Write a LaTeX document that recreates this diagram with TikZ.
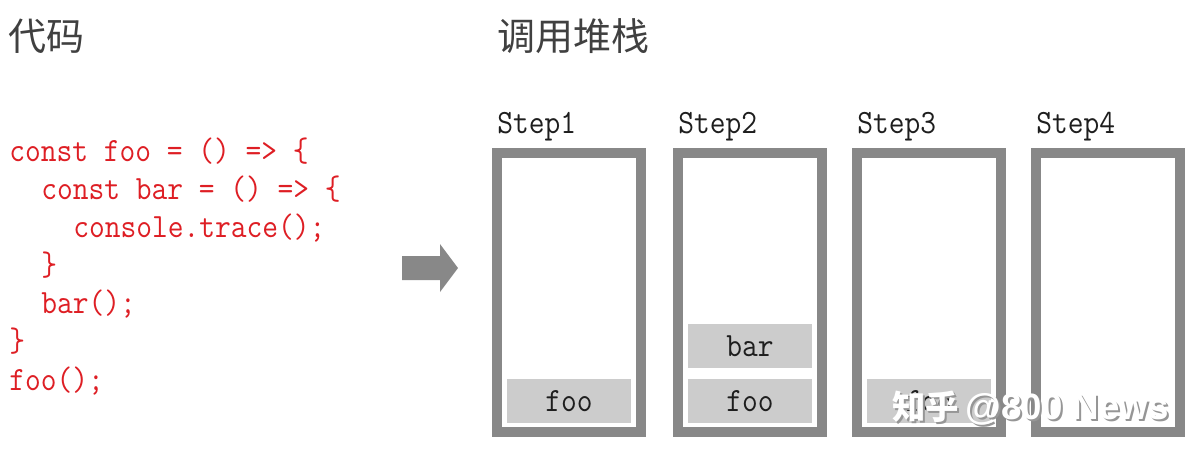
\documentclass[tikz,border=0pt]{standalone}
\usepackage{fontspec}
\newfontfamily\cjk{Noto Sans CJK SC}
\newfontfamily\wmfont{Liberation Sans}
\definecolor{codered}{RGB}{222,30,36}
\definecolor{framegray}{RGB}{136,136,136}
\definecolor{blockfill}{RGB}{204,204,204}
\definecolor{titlegray}{RGB}{64,64,64}
\definecolor{textdark}{RGB}{30,30,30}
\definecolor{shadowgray}{RGB}{150,150,150}
\newcommand{\mono}[1]{\scalebox{0.9}[1]{#1}}
\begin{document}
\begin{tikzpicture}[x=0.75pt,y=-0.75pt,
  title/.style={anchor=base west, inner sep=0pt, font=\cjk\fontsize{28.5}{30}\selectfont, text=titlegray},
  codeline/.style={anchor=base west, inner sep=0pt, font=\ttfamily\fontsize{25.5}{28}\selectfont, text=codered},
  steplabel/.style={anchor=base west, inner sep=0pt, font=\ttfamily\fontsize{25.5}{28}\selectfont, text=textdark},
  stackbox/.style={draw=framegray, line width=7.5pt, minimum width=108pt, minimum height=209.25pt, inner sep=0pt},
  frameblock/.style={fill=blockfill, minimum width=93pt, minimum height=33pt, inner sep=0pt, font=\ttfamily\fontsize{25.5}{28}\selectfont, text=textdark},
  wm/.style={anchor=base west, inner sep=0pt},
]
\useasboundingbox (0,0) rectangle (1197,458);
\fill[white] (0,0) rectangle (1197,458);

% titles
\node[title] (t1) at (8,50) {代码};
\node[title] (t2) at (497,50) {调用堆栈};

% code
\node[codeline] (c1) at (9,161) {\mono{const foo = () => \{}};
\node[codeline] (c2) at (41,199) {\mono{const bar = () => \{}};
\node[codeline] (c3) at (73,237) {\mono{console.trace();}};
\node[codeline] (c4) at (41,275) {\mono{\}}};
\node[codeline] (c5) at (41,313) {\mono{bar();}};
\node[codeline] (c6) at (9,351) {\mono{\}}};
\node[codeline] (c7) at (9,390) {\mono{foo();}};

% arrow
\fill[framegray] (402,256) -- (440,256) -- (440,244) -- (458,268) -- (440,292) -- (440,280) -- (402,280) -- cycle;

% step labels
\node[steplabel] (l1) at (497,133) {\mono{Step1}};
\node[steplabel] (l2) at (678,133) {\mono{Step2}};
\node[steplabel] (l3) at (857,133) {\mono{Step3}};
\node[steplabel] (l4) at (1036,133) {\mono{Step4}};

% stack frames
\node[stackbox] (s1) at (569,292.5) {};
\node[stackbox] (s2) at (750,292.5) {};
\node[stackbox] (s3) at (929,292.5) {};
\node[stackbox] (s4) at (1108,292.5) {};

% blocks
\node[frameblock] (f1) at (569,401) {\mono{foo}};
\node[frameblock] (b2) at (750,346) {\mono{bar}};
\node[frameblock] (f2) at (750,401) {\mono{foo}};
\node[frameblock] (f3) at (929,401) {\mono{foo}};

% watermark
\node[wm, text=shadowgray] (wms) at (894,421) {\cjk\bfseries\fontsize{25}{26}\selectfont 知乎\hspace{5pt}\wmfont\fontsize{27.5}{28}\selectfont @800 News};
\node[wm, text=white] (wmt) at (892,419) {\cjk\bfseries\fontsize{25}{26}\selectfont 知乎\hspace{5pt}\wmfont\fontsize{27.5}{28}\selectfont @800 News};
\end{tikzpicture}
\end{document}
